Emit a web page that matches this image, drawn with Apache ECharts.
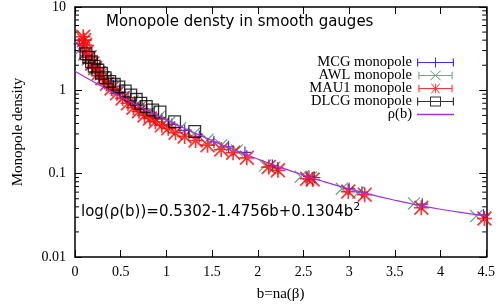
<!DOCTYPE html>
<html>
<head>
<meta charset="utf-8">
<script src="https://cdn.jsdelivr.net/npm/echarts@6/dist/echarts.min.js"></script>
<style>
  html, body { margin: 0; padding: 0; background: #fff; }
  #chart { width: 498px; height: 307px; }
</style>
</head>
<body>
<div id="chart"></div>
<script>
// data
let mcgB   = [0.05, 0.08, 0.12, 0.15, 0.2, 0.25, 0.3, 0.36, 0.42, 0.5, 0.58, 0.66, 0.75, 0.85, 0.95, 1.06, 1.2, 1.36, 1.52, 1.68, 1.86, 2.16, 2.22, 2.56, 2.62, 3.0, 3.14, 3.8, 4.47];
let mcgRho = [3.6, 3.0, 2.6, 2.3, 1.95, 1.7, 1.5, 1.3, 1.12, 0.95, 0.82, 0.7, 0.6, 0.52, 0.45, 0.39, 0.33, 0.28, 0.24, 0.21, 0.18, 0.125, 0.117, 0.093, 0.09, 0.066, 0.06, 0.043, 0.032];

let awlB   = [0.07, 0.1, 0.14, 0.18, 0.23, 0.28, 0.34, 0.4, 0.47, 0.55, 0.63, 0.72, 0.82, 0.92, 1.03, 1.15, 1.3, 1.45, 1.6, 1.77, 2.08, 2.18, 2.47, 2.58, 2.92, 3.1, 3.71, 4.39];
let awlRho = [3.2, 2.7, 2.35, 2.05, 1.8, 1.55, 1.35, 1.15, 1.0, 0.86, 0.74, 0.64, 0.55, 0.48, 0.41, 0.35, 0.3, 0.255, 0.22, 0.19, 0.125, 0.118, 0.092, 0.09, 0.066, 0.059, 0.044, 0.031];

let mau1B   = [0.09, 0.1, 0.11, 0.13, 0.16, 0.19, 0.22, 0.26, 0.3, 0.35, 0.4, 0.46, 0.52, 0.58, 0.64, 0.7, 0.76, 0.82, 0.88, 0.95, 1.02, 1.1, 1.2, 1.32, 1.45, 1.6, 1.73, 1.88, 2.12, 2.22, 2.54, 2.6, 2.99, 3.17, 3.79, 4.48];
let mau1Rho = [4.4, 4.0, 3.5, 2.9, 2.5, 2.1, 1.85, 1.6, 1.4, 1.2, 1.05, 0.92, 0.8, 0.7, 0.62, 0.56, 0.5, 0.46, 0.42, 0.38, 0.35, 0.31, 0.28, 0.25, 0.22, 0.195, 0.178, 0.155, 0.12, 0.11, 0.087, 0.085, 0.061, 0.056, 0.039, 0.029];

let dlcgB   = [0.12, 0.15, 0.18, 0.21, 0.25, 0.29, 0.33, 0.38, 0.43, 0.48, 0.55, 0.61, 0.67, 0.72, 0.78, 0.85, 0.93, 1.09, 1.31];
let dlcgRho = [2.75, 2.5, 2.2, 1.95, 1.75, 1.6, 1.42, 1.28, 1.18, 1.1, 0.98, 0.88, 0.78, 0.7, 0.64, 0.58, 0.55, 0.42, 0.32];

// fitted curve rho(b), sampled
let curveB   = [0, 0.25, 0.5, 0.75, 1, 1.25, 1.5, 1.75, 2, 2.25, 2.5, 2.75, 3, 3.25, 3.5, 3.75, 4, 4.25, 4.5];
let curveRho = [1.699, 1.185, 0.839, 0.605, 0.443, 0.329, 0.249, 0.1915, 0.1497, 0.1189, 0.096, 0.0787, 0.0657, 0.0557, 0.048, 0.042, 0.0374, 0.0339, 0.0311];

let seriesNames = ['MCG monopole', 'AWL monopole', 'MAU1 monopole', 'DLCG monopole', 'ρ(b)'];
let xTicks = [0, 0.5, 1, 1.5, 2, 2.5, 3, 3.5, 4, 4.5];
let yMinorTicks = [0.02, 0.03, 0.04, 0.05, 0.06, 0.07, 0.08, 0.09, 0.2, 0.3, 0.4, 0.5, 0.6, 0.7, 0.8, 0.9, 2, 3, 4, 5, 6, 7, 8, 9];

let colors = ['#0000ff', '#3a9a66', '#ff0000', '#000000', '#a030f0'];

function pairs(xs, ys) {
    return xs.map((x, i) => [x, ys[i]]);
}

// symbols (filled outlines)
let plusPath = 'path://M9,0h2v20h-2z M0,9h20v2h-20z';
let crossPath = 'path://M1.4,0L20,18.6L18.6,20L0,1.4Z M18.6,0L20,1.4L1.4,20L0,18.6Z';
let starPath = 'path://M8.9,0h2.2v20h-2.2z M0,8.9h20v2.2h-20z M1.6,0L20,18.4L18.4,20L0,1.6Z M18.4,0L20,1.6L1.6,20L0,18.4Z';
let squarePath = 'path://M0,0h20v20h-20z M2,2v16h16v-16z';

// legend icons, 37 x 10 : error bar with symbol in the middle
let barBase = 'M0,4.5h37v1h-37z M0,1h1.2v8h-1.2z M35.8,1h1.2v8h-1.2z';
let legendIcons = [
    'path://' + barBase + ' M18,0h1v10h-1z',
    'path://' + barBase + ' M12.6,0.2L13.4,-0.4L24.4,9.8L23.6,10.4Z M23.6,-0.4L24.4,0.2L13.4,10.4L12.6,9.8Z',
    'path://' + barBase + ' M18,0h1v10h-1z M13.7,0.2L14.4,-0.4L23.3,9.8L22.6,10.4Z M22.6,-0.4L23.3,0.2L14.4,10.4L13.7,9.8Z',
    'path://' + barBase + ' M13,0h11v10h-11z M14,1v8h9v-8z',
    'path://M0,4.2h37v1.6h-37z'
];

let serif = 'Liberation Serif';
let sans = 'DejaVu Sans';

let chart = echarts.init(document.getElementById('chart'));

let option = {
    backgroundColor: '#fff',
    animation: false,
    color: colors,
    title: {
        text: 'Monopole densty in smooth gauges',
        left: 106,
        top: 15,
        padding: 0,
        textStyle: { fontFamily: sans, fontSize: 15, fontWeight: 'normal', color: '#000' }
    },
    legend: {
        orient: 'vertical',
        right: 39,
        top: 50,
        align: 'right',
        itemWidth: 37,
        itemHeight: 10,
        itemGap: -2,
        selectedMode: false,
        textStyle: { fontFamily: serif, fontSize: 14.5, color: '#000' },
        data: seriesNames.map((n, i) => ({ name: n, icon: legendIcons[i] }))
    },
    grid: { left: 75, right: 11, top: 7, bottom: 50 },
    xAxis: [{
        type: 'value',
        min: 0, max: 4.5, interval: 0.5,
        name: 'b=na(β)',
        nameLocation: 'middle',
        nameGap: 30,
        nameTextStyle: { fontFamily: serif, fontSize: 15, color: '#000' },
        axisLine: { onZero: false, lineStyle: { color: '#000', width: 1.5 } },
        axisTick: { inside: true, length: 7, lineStyle: { color: '#000' } },
        axisLabel: { fontFamily: serif, fontSize: 14, color: '#000', margin: 8,
            formatter: v => xTicks.indexOf(v) >= 0 ? String(v) : '' },
        splitLine: { show: false }
    }, {
        type: 'value',
        position: 'top',
        min: 0, max: 4.5, interval: 0.5,
        axisLine: { onZero: false, lineStyle: { color: '#000', width: 1.5 } },
        axisTick: { inside: true, length: 7, lineStyle: { color: '#000' } },
        axisLabel: { show: false },
        splitLine: { show: false }
    }],
    yAxis: [{
        type: 'log',
        logBase: 10,
        min: 0.01, max: 10,
        name: 'Monopole density',
        nameLocation: 'middle',
        nameGap: 49,
        nameTextStyle: { fontFamily: serif, fontSize: 15, color: '#000' },
        axisLine: { onZero: false, lineStyle: { color: '#000', width: 1.5 } },
        axisTick: { inside: true, length: 7, lineStyle: { color: '#000' } },
        axisLabel: { fontFamily: serif, fontSize: 14, color: '#000', margin: 9 },
        splitLine: { show: false }
    }, {
        type: 'log',
        logBase: 10,
        position: 'right',
        min: 0.01, max: 10,
        axisLine: { onZero: false, lineStyle: { color: '#000', width: 1.5 } },
        axisTick: { inside: true, length: 7, lineStyle: { color: '#000' } },
        axisLabel: { show: false },
        splitLine: { show: false }
    }],
    graphic: [{
        type: 'text',
        left: 81,
        top: 202,
        style: {
            text: '{a|log(ρ(b))=0.5302-1.4756b+0.1304b}{s|2}',
            rich: {
                a: { fontFamily: sans, fontSize: 15, fill: '#000' },
                s: { fontFamily: sans, fontSize: 11, fill: '#000', padding: [0, 0, 9, 0] }
            }
        }
    }],
    series: [
        {
            name: seriesNames[0], type: 'scatter',
            symbol: plusPath, symbolSize: 12,
            data: pairs(mcgB, mcgRho), z: 2
        },
        {
            name: seriesNames[1], type: 'scatter',
            symbol: crossPath, symbolSize: 13,
            data: pairs(awlB, awlRho), z: 3
        },
        {
            name: seriesNames[2], type: 'scatter',
            symbol: starPath, symbolSize: 15,
            data: pairs(mau1B, mau1Rho), z: 4
        },
        {
            name: seriesNames[3], type: 'scatter',
            symbol: squarePath, symbolSize: 13,
            data: pairs(dlcgB, dlcgRho), z: 5
        },
        {
            name: seriesNames[4], type: 'line',
            smooth: true, symbol: 'none',
            lineStyle: { width: 1.2, color: colors[4] },
            data: pairs(curveB, curveRho), z: 6
        },
        {
            // minor log ticks on left and right frame
            type: 'custom',
            silent: true,
            clip: false,
            data: yMinorTicks.map(v => [0, v]),
            renderItem: function (params, api) {
                let y = api.coord([0, api.value(1)])[1];
                let cs = params.coordSys;
                let x0 = cs.x, x1 = cs.x + cs.width;
                return {
                    type: 'group',
                    children: [
                        { type: 'line', shape: { x1: x0, y1: y, x2: x0 + 4, y2: y }, style: { stroke: '#000', lineWidth: 1 } },
                        { type: 'line', shape: { x1: x1 - 4, y1: y, x2: x1, y2: y }, style: { stroke: '#000', lineWidth: 1 } }
                    ]
                };
            },
            z: 1
        }
    ]
};

chart.setOption(option);
</script>
</body>
</html>
